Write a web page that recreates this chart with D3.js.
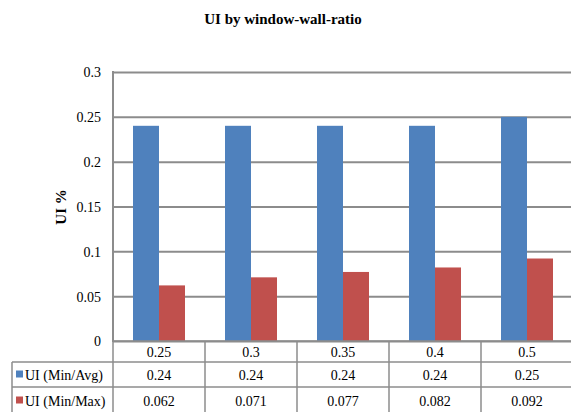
<!DOCTYPE html>
<html><head><meta charset="utf-8">
<script src="https://cdn.jsdelivr.net/npm/d3@7"></script>
<style>body{margin:0;background:#fff}svg{display:block}</style>
</head><body><svg id="c" width="571" height="412" font-family="'Liberation Serif', 'Times New Roman', serif"></svg>
<script>
const categories = ["0.25","0.3","0.35","0.4","0.5"];
const seriesNames = ["UI (Min/Avg)","UI (Min/Max)"];
const minAvg = [0.24,0.24,0.24,0.24,0.25];
const minMax = [0.062,0.071,0.077,0.082,0.092];
const minAvgLabels = ["0.24","0.24","0.24","0.24","0.25"];
const minMaxLabels = ["0.062","0.071","0.077","0.082","0.092"];
const yTicks = [0,0.05,0.1,0.15,0.2,0.25,0.3];
const colors = ["#4F81BD","#C0504D"];

const FONT = "'Liberation Serif', 'Times New Roman', serif";
const svg = d3.select("#c");
const L = 113, R = 573, T = 72, B = 341;
const x0 = d3.scaleBand().domain(categories).range([L,R]).padding(0);
const x1 = d3.scaleBand().domain(seriesNames).range([20,72]).padding(0);
const y = d3.scaleLinear().domain([0,0.3]).range([B,T]);
const gridCol = "#8c8c8c";

svg.append("text").attr("x",283).attr("y",24).attr("text-anchor","middle").attr("font-family",FONT)
  .attr("font-weight","bold").attr("font-size",15).text("UI by window-wall-ratio");
svg.append("text").attr("transform","translate(66,207) rotate(-90)").attr("text-anchor","middle").attr("font-family",FONT)
  .attr("font-weight","bold").attr("font-size",15).text("UI %");

const yAxis = d3.axisLeft(y).tickValues(yTicks).tickSize(-(R-L)).tickFormat(d=>d3.format("")(d)).tickPadding(12);
const ga = svg.append("g").attr("transform",`translate(${L},0)`).call(yAxis);
ga.attr("font-family",FONT).attr("font-size",14);
ga.select(".domain").remove();
ga.selectAll(".tick line").attr("stroke",gridCol).attr("stroke-width",2);
ga.selectAll(".tick text").attr("fill","#000").attr("dy","0.35em");
svg.append("line").attr("x1",L).attr("x2",L).attr("y1",T-1).attr("y2",B+1).attr("stroke",gridCol).attr("stroke-width",2);

const data = categories.map((c,i)=>({c, vals:[minAvg[i],minMax[i]]}));
const g = svg.append("g");
data.forEach(d=>{
  d.vals.forEach((v,j)=>{
    g.append("rect").attr("x",x0(d.c)+x1(seriesNames[j])).attr("width",x1.bandwidth())
      .attr("y",y(v)).attr("height",B-y(v)).attr("fill",colors[j]);
  });
});

const rowY = [B, 362, 387, 414];
const tbl = svg.append("g").attr("stroke",gridCol).attr("stroke-width",1.5);
tbl.append("line").attr("x1",L).attr("x2",R).attr("y1",B).attr("y2",B);
tbl.append("line").attr("x1",12).attr("x2",R).attr("y1",rowY[1]).attr("y2",rowY[1]);
tbl.append("line").attr("x1",12).attr("x2",R).attr("y1",rowY[2]).attr("y2",rowY[2]);
categories.forEach(c=>{
  tbl.append("line").attr("x1",x0(c)).attr("x2",x0(c)).attr("y1",B).attr("y2",rowY[3]);
});
tbl.append("line").attr("x1",R).attr("x2",R).attr("y1",B).attr("y2",rowY[3]);
tbl.append("line").attr("x1",12).attr("x2",12).attr("y1",rowY[1]).attr("y2",rowY[3]);

const cx = c=>x0(c)+x0.bandwidth()/2;
const rowsText = [categories, minAvgLabels, minMaxLabels];
rowsText.forEach((arr,r)=>{
  arr.forEach((t,i)=>{
    svg.append("text").attr("x",cx(categories[i])).attr("y",(rowY[r]+rowY[r+1])/2+5)
      .attr("text-anchor","middle").attr("font-family",FONT).attr("font-size",14).text(t);
  });
});
seriesNames.forEach((s,j)=>{
  const ym = (rowY[j+1]+rowY[j+2])/2;
  svg.append("rect").attr("x",16).attr("y",ym-4).attr("width",7).attr("height",7).attr("fill",colors[j]);
  svg.append("text").attr("x",25).attr("y",ym+5).attr("font-family",FONT).attr("font-size",14).text(s);
});
</script></body></html>
